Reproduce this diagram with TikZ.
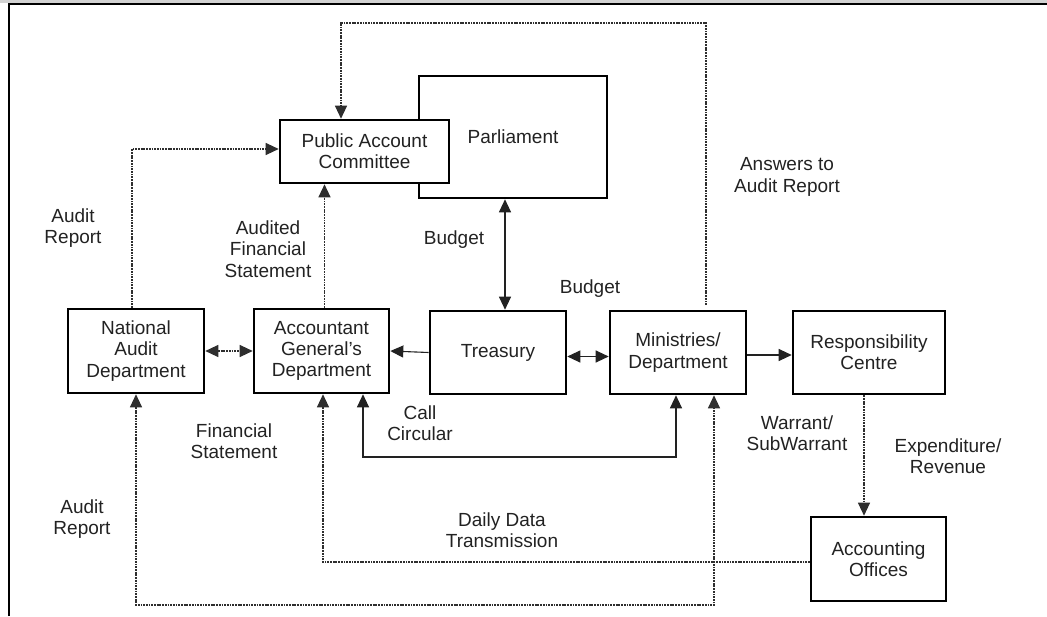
\documentclass[tikz,border=0pt]{standalone}
\usepackage{fontspec}
\setmainfont{Liberation Sans}
\usetikzlibrary{arrows.meta}
\definecolor{ink}{HTML}{222222}
\definecolor{dotcol}{HTML}{2E2E2E}
\begin{document}
\begin{tikzpicture}[x=1pt,y=-1pt,
  box/.style={draw=black,line width=2.6pt,fill=white,inner sep=0pt,align=center,
    text=ink,font=\fontsize{19}{21.3}\selectfont},
  lbl/.style={inner sep=0pt,align=center,text=ink,font=\fontsize{19}{21.3}\selectfont},
  solidline/.style={draw=ink,line width=1.1pt},
  dotline/.style={draw=dotcol,line width=1.2pt,dash pattern=on 1.8pt off 0.9pt},
  onearrow/.style={-{Triangle[length=13pt,width=12pt]}},
  twoarrow/.style={{Triangle[length=13pt,width=12pt]}-{Triangle[length=13pt,width=12pt]}}]
  \useasboundingbox (0,0) rectangle (1047,616);
  % page strip and frame
  \fill[gray!35] (0,0) rectangle (1047,3);
  \draw[black,line width=1.3pt] (9,616) -- (9,4) -- (1047,4);

  % boxes
  \node[box,minimum width=188pt,minimum height=122pt] (parl) at (513,137) {Parliament};
  \node[box,minimum width=169pt,minimum height=63pt] (pac) at (364.5,151.5) {Public Account\\Committee};
  \node[box,minimum width=136pt,minimum height=84pt] (nad) at (136,351) {National\\Audit\\Department};
  \node[box,minimum width=135pt,minimum height=84pt] (agd) at (321.5,351) {Accountant\\General’s\\Department};
  \node[box,minimum width=136pt,minimum height=83pt] (tre) at (498,352.5) {Treasury};
  \node[box,minimum width=136pt,minimum height=83pt] (min) at (678,352.5) {Ministries/\\Department};
  \node[box,minimum width=152pt,minimum height=83pt] (rc) at (869,352.5) {Responsibility\\Centre};
  \node[box,minimum width=135pt,minimum height=84pt] (ao) at (878.5,559) {Accounting\\Offices};

  % labels
  \node[lbl] (l1) at (787,177) {Answers to\\Audit Report};
  \node[lbl] (l2) at (73,228) {Audit\\Report};
  \node[lbl] (l3) at (268,249) {Audited\\Financial\\Statement};
  \node[lbl] (l4) at (454,240) {Budget};
  \node[lbl] (l5) at (590,289) {Budget};
  \node[lbl] (l6) at (420,423.5) {Call\\Circular};
  \node[lbl] (l7) at (234,441) {Financial\\Statement};
  \node[lbl] (l8) at (797,433) {Warrant/\\SubWarrant};
  \node[lbl] (l9) at (948,456) {Expenditure/\\Revenue};
  \node[lbl] (l10) at (82,519) {Audit\\Report};
  \node[lbl] (l11) at (502,530) {Daily Data\\Transmission};

  % routing points
  \coordinate (ansEnd) at (706,305);
  \coordinate (ansTop) at (706,23);
  \coordinate (pacTop) at (341,23);
  \coordinate (nadUp) at (132,149);
  \coordinate (afs) at (324.5,0);
  \coordinate (bud) at (505,0);
  \coordinate (exp) at (864,0);
  \coordinate (ccL) at (363,457);
  \coordinate (ccR) at (676,457);
  \coordinate (dd) at (323,562);
  \coordinate (bl) at (136,605);
  \coordinate (br) at (714,605);

  % connectors
  \draw[dotline,onearrow] (ansEnd) -- (ansTop) -- (pacTop) -- (pacTop |- pac.north);
  \draw[dotline,onearrow] (nadUp |- nad.north) -- (nadUp) -- (pac.west |- nadUp);
  \draw[dotline,onearrow] (afs |- agd.north) -- (afs |- pac.south);
  \draw[solidline,twoarrow] (bud |- parl.south) -- (bud |- tre.north);
  \draw[dotline,twoarrow] (nad.east) -- (agd.west);
  \draw[solidline,onearrow] (tre.west) -- (agd.east);
  \draw[solidline,twoarrow] ([yshift=-4pt]tre.east) -- ([yshift=-4pt]min.west);
  \draw[solidline,onearrow] ([yshift=-2.5pt]min.east) -- ([yshift=-2.5pt]rc.west);
  \draw[dotline,onearrow] (exp |- rc.south) -- (exp |- ao.north);
  \draw[solidline,twoarrow] (ccL |- agd.south) -- (ccL) -- (ccR) -- (ccR |- min.south);
  \draw[dotline,onearrow] (ao.west |- dd) -- (dd) -- (dd |- agd.south);
  \draw[dotline,twoarrow] (bl |- nad.south) -- (bl) -- (br) -- (br |- min.south);
\end{tikzpicture}
\end{document}
